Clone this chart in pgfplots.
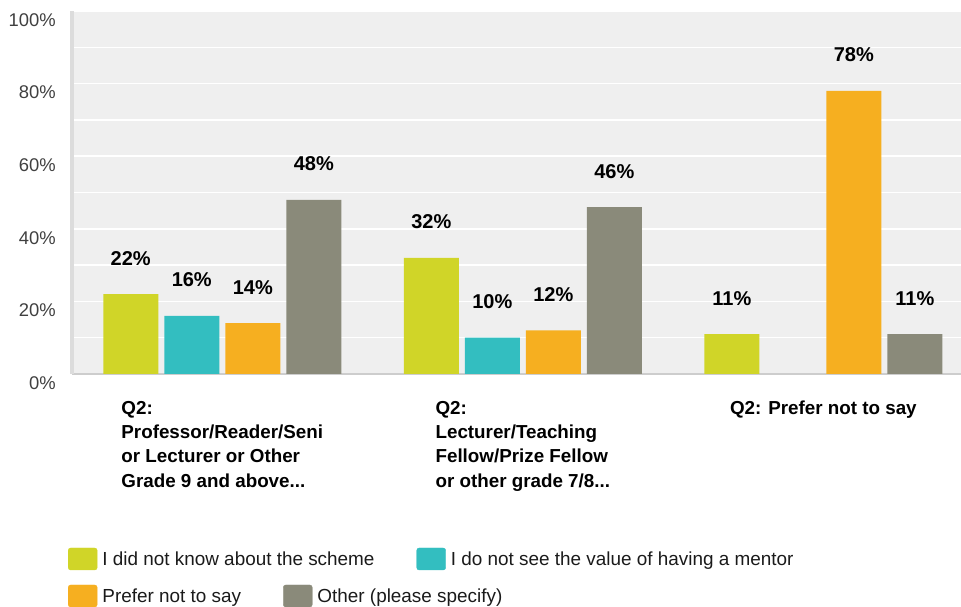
\documentclass[border=0pt]{standalone}
\usepackage{fontspec}
\setmainfont{Liberation Sans}
\usepackage{pgfplots}
\pgfplotsset{compat=1.18}
\definecolor{cgreen}{RGB}{208,213,40}
\definecolor{cteal}{RGB}{51,190,192}
\definecolor{corange}{RGB}{246,175,32}
\definecolor{cgray}{RGB}{138,138,122}
\definecolor{plotbg}{RGB}{239,239,239}
\definecolor{axgray}{RGB}{205,205,205}
\definecolor{aygray}{RGB}{220,220,220}
\definecolor{tickcol}{RGB}{64,64,64}
\definecolor{legtext}{RGB}{26,26,26}
\newcommand{\tdots}{...}
\begin{document}
\begin{tikzpicture}
\useasboundingbox (0,0) rectangle (961bp,607bp);
\begin{axis}[
  at={(72bp,233bp)}, anchor=south west, scale only axis,
  width=889bp, height=363bp,
  xmin=-0.5, xmax=2.458, ymin=0, ymax=100,
  axis background/.style={fill=plotbg},
  axis x line*=bottom, axis y line*=left,
  x axis line style={-, draw=axgray, line width=2bp},
  y axis line style={-, draw=aygray, line width=3bp},
  major tick length=0pt, minor tick length=0pt,
  tick style={draw=none},
  ytick={0,20,40,60,80,100},
  yticklabels={0\%,20\%,40\%,60\%,80\%,100\%},
  minor ytick={10,30,50,70,90},
  ymajorgrids, yminorgrids,
  major grid style={draw=white, line width=1.5bp},
  minor grid style={draw=white, line width=1.5bp},
  xtick={0,1,2},
  xticklabels={{Q2:\\Professor/Reader/Seni\\or Lecturer or Other\\Grade 9 and above\tdots},
               {Q2:\\Lecturer/Teaching\\Fellow/Prize Fellow\\or other grade 7/8\tdots},
               {Q2: Prefer not to say}},
  xticklabel style={align=left, anchor=north, inner sep=0pt, yshift=-27bp,
    font=\fontsize{18.8bp}{24.3bp}\selectfont\bfseries, text=black},
  yticklabel style={anchor=east, inner sep=0pt, xshift=-16bp, yshift=-9bp,
    font=\fontsize{18.4bp}{22bp}\selectfont, text=tickcol},
  ybar, bar width=0.183,
  nodes near coords={\pgfmathprintnumber[assume math mode=true]{\pgfplotspointmeta}\%},
  nodes near coords style={anchor=base, yshift=29bp, inner sep=0pt,
    font=\fontsize{20bp}{24bp}\selectfont\bfseries, text=black},
  clip=false,
]
\addplot[fill=cgreen, draw=none, bar shift=-0.3045] coordinates {(0,22) (1,32) (2,11)};
\addplot[fill=cteal, draw=none, bar shift=-0.1015] coordinates {(0,16) (1,10)};
\addplot[fill=corange, draw=none, bar shift=0.1015] coordinates {(0,14) (1,12) (2,78)};
\addplot[fill=cgray, draw=none, bar shift=0.3045] coordinates {(0,48) (1,46) (2,11)};
\end{axis}
\begin{axis}[
  at={(0bp,0bp)}, anchor=south west, scale only axis,
  width=961bp, height=607bp,
  xmin=0, xmax=961, ymin=0, ymax=607, hide axis,
  legend columns=-1,
  legend style={at={(axis cs:68,48)}, anchor=west, draw=none, fill=none,
    inner sep=0pt, outer sep=0pt,
    font=\fontsize{18.9bp}{22bp}\selectfont, text=legtext,
    /tikz/every even column/.append style={column sep=42bp},
    /tikz/every odd column/.append style={column sep=5bp},
    nodes={inner sep=0pt}},
]
\addlegendimage{legend image code/.code={\fill[cgreen, rounded corners=2.5bp] (0bp,-11bp) rectangle (29bp,11bp);}}
\addlegendentry{I did not know about the scheme}
\addlegendimage{legend image code/.code={\fill[cteal, rounded corners=2.5bp] (0bp,-11bp) rectangle (29bp,11bp);}}
\addlegendentry{I do not see the value of having a mentor}
\end{axis}
\begin{axis}[
  at={(0bp,0bp)}, anchor=south west, scale only axis,
  width=961bp, height=607bp,
  xmin=0, xmax=961, ymin=0, ymax=607, hide axis,
  legend columns=-1,
  legend style={at={(axis cs:68,11)}, anchor=west, draw=none, fill=none,
    inner sep=0pt, outer sep=0pt,
    font=\fontsize{18.9bp}{22bp}\selectfont, text=legtext,
    /tikz/every even column/.append style={column sep=42bp},
    /tikz/every odd column/.append style={column sep=5bp},
    nodes={inner sep=0pt}},
]
\addlegendimage{legend image code/.code={\fill[corange, rounded corners=2.5bp] (0bp,-11bp) rectangle (29bp,11bp);}}
\addlegendentry{Prefer not to say}
\addlegendimage{legend image code/.code={\fill[cgray, rounded corners=2.5bp] (0bp,-11bp) rectangle (29bp,11bp);}}
\addlegendentry{Other (please specify)}
\end{axis}
\end{tikzpicture}
\end{document}
